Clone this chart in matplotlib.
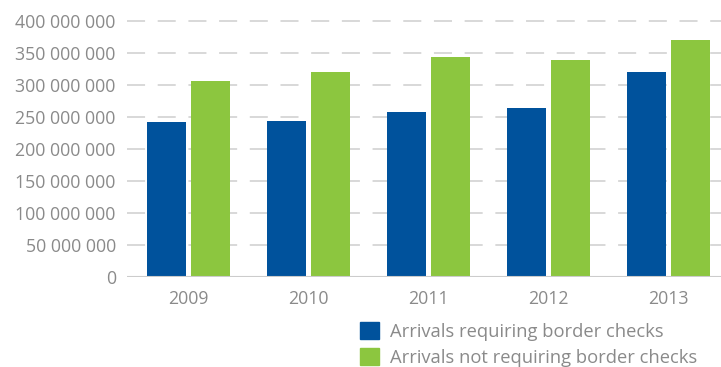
import matplotlib.pyplot as plt
from matplotlib.patches import Patch
import numpy as np

years = ["2009", "2010", "2011", "2012", "2013"]
with_checks = [242e6, 244e6, 258e6, 264e6, 320e6]
without_checks = [306e6, 320e6, 344e6, 339e6, 370e6]
ytick_vals = [0, 50e6, 100e6, 150e6, 200e6, 250e6, 300e6, 350e6, 400e6]
ytick_labels = ["0", "50 000 000", "100 000 000", "150 000 000", "200 000 000",
                "250 000 000", "300 000 000", "350 000 000", "400 000 000"]

blue = "#00529c"
green = "#8cc63f"
grey_text = "#8a8a8a"

plt.rcParams['font.family'] = ['Open Sans', 'DejaVu Sans']

fig = plt.figure(figsize=(7.21, 3.67), dpi=100)
ax = fig.add_axes([0.176, 0.2452, 0.824, 0.6976])

x = np.arange(len(years))
w = 0.325
ax.bar(x - 0.183, with_checks, width=w, color=blue, zorder=3)
ax.bar(x + 0.183, without_checks, width=w, color=green, zorder=3)

ax.set_xlim(-0.51, 4.44)
ax.set_ylim(0, 400e6)
ax.set_yticks(ytick_vals)
ax.set_yticklabels(ytick_labels)
ax.set_xticks(x)
ax.set_xticklabels(years)

# dashed grid, solid baseline
for v in ytick_vals[1:]:
    ax.axhline(v, color="#d6d6d6", lw=1.3, linestyle=(0, (10, 7)), zorder=1, clip_on=False)
ax.axhline(0, color="#cccccc", lw=1.5, zorder=4)

for s in ax.spines.values():
    s.set_visible(False)
ax.tick_params(axis="both", length=0, labelsize=12.8, colors=grey_text)
ax.tick_params(axis="y", pad=8)
ax.tick_params(axis="x", pad=9)

handles = [Patch(color=blue), Patch(color=green)]
fig.legend(handles, ["Arrivals requiring border checks", "Arrivals not requiring border checks"],
           loc="upper left", bbox_to_anchor=(0.499, 0.122), frameon=False,
           fontsize=13.2, labelcolor=grey_text, handlelength=1.03, handleheight=1.03,
           handletextpad=0.6, labelspacing=0.4, borderpad=0, borderaxespad=0)

fig.savefig("out.png", dpi=100)
